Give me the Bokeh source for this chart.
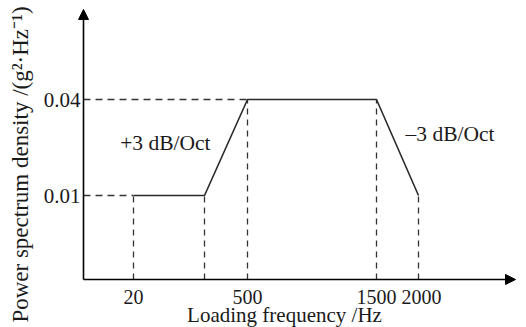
import math
from bokeh.plotting import figure
from bokeh.models import Arrow, NormalHead, Label, Range1d
from bokeh.embed import file_html
from bokeh.resources import INLINE

# --- data (schematic PSD profile) ---
freq = [20, 125, 500, 1500, 2000]            # breakpoint frequencies (Hz)
psd = [0.01, 0.01, 0.04, 0.04, 0.01]         # PSD at breakpoints (g^2/Hz)
freq_axis_pos = [50, 121, 164, 293, 335]     # schematic (non-linear) axis position of each breakpoint
freq_tick_pos = [50, 164, 293, 335]
freq_tick_labels = ["20", "500", "1500", "2000"]
psd_ticks = [0.01, 0.04]
psd_tick_labels = ["0.01", "0.04"]
slope_labels = ["+3 dB/Oct", "\u20133 dB/Oct"]
x_title = "Loading frequency /Hz"
y_title = "Power spectrum density /(g\u00b2\u00b7Hz\u207b\u00b9)"

FONT = "Liberation Serif"
INK = "#1a1a1a"

W, H = 526, 327
AXIS_LEFT = 83              # canvas px of the PSD axis
AXIS_BOTTOM_FROM_TOP = 279  # canvas px of the frequency axis
PX_PER_DEC = 159.4          # log-PSD scale
PX_001 = 195                # canvas px (from top) of the 0.01 level


def level(px_from_top):
    return 0.01 * 10 ** ((PX_001 - px_from_top) / PX_PER_DEC)


x_lo, x_hi = -AXIS_LEFT, W - AXIS_LEFT
y_lo, y_hi = level(H), level(0)
y_axis_base = level(AXIS_BOTTOM_FROM_TOP)
x_arrow_end = 432
y_arrow_end = level(9)

p = figure(width=W, height=H, output_backend="svg", toolbar_location=None,
           y_axis_type="log", x_range=Range1d(x_lo, x_hi), y_range=Range1d(y_lo, y_hi),
           x_axis_location=None, y_axis_location=None, min_border=0)
p.outline_line_color = None
p.grid.visible = False
p.background_fill_color = "white"

# guide dashes: horizontal from PSD axis to first point of each level
p.segment(x0=[0, 0], y0=[psd[0], psd[2]], x1=[freq_axis_pos[0], freq_axis_pos[2]], y1=[psd[0], psd[2]],
          line_color="#333333", line_width=1.5, line_dash="7 5")
# vertical dashes from the frequency axis to every breakpoint
p.segment(x0=freq_axis_pos, y0=[y_axis_base] * len(freq), x1=freq_axis_pos, y1=psd,
          line_color="#333333", line_width=1.3, line_dash="6 5")

# profile
p.line(freq_axis_pos, psd, line_color="#2a2a2a", line_width=1.6)

# axis arrows
p.add_layout(Arrow(end=NormalHead(size=10, fill_color="black", line_color="black", line_width=1),
                   x_start=0, y_start=y_axis_base, x_end=0, y_end=y_arrow_end,
                   line_width=1.6, line_color="black"))
p.add_layout(Arrow(end=NormalHead(size=10, fill_color="black", line_color="black", line_width=1),
                   x_start=0, y_start=y_axis_base, x_end=x_arrow_end, y_end=y_axis_base,
                   line_width=1.6, line_color="black"))

# tick labels
p.text(x=freq_tick_pos, y=[level(296)] * len(freq_tick_pos), text=freq_tick_labels,
       x_offset=[0, 0, 0, 3],
       text_align="center", text_baseline="middle", text_font={"value": FONT},
       text_font_size="20px", text_color=INK)
p.text(x=[-3] * len(psd_ticks), y=psd_ticks, text=psd_tick_labels,
       text_align="right", text_baseline="middle", text_font={"value": FONT},
       text_font_size="21px", text_color=INK)

# slope annotations
p.add_layout(Label(x=freq_axis_pos[1] + 6, y=level(142), text=slope_labels[0], text_align="right",
                   text_baseline="middle", text_font=FONT, text_font_size="21.5px", text_color=INK))
p.add_layout(Label(x=freq_axis_pos[3] + 29, y=level(133), text=slope_labels[1], text_align="left",
                   text_baseline="middle", text_font=FONT, text_font_size="21.5px", text_color=INK))

# axis titles
p.add_layout(Label(x=201, y=level(314), text=x_title,
                   text_align="center", text_baseline="middle", text_font=FONT,
                   text_font_size="21px", text_color=INK))
p.add_layout(Label(x=-63, y=level(164), text=y_title, angle=math.pi / 2,
                   text_align="center", text_baseline="middle", text_font=FONT,
                   text_font_size="23px", text_color=INK))

open("out.html", "w").write(file_html(p, INLINE))
